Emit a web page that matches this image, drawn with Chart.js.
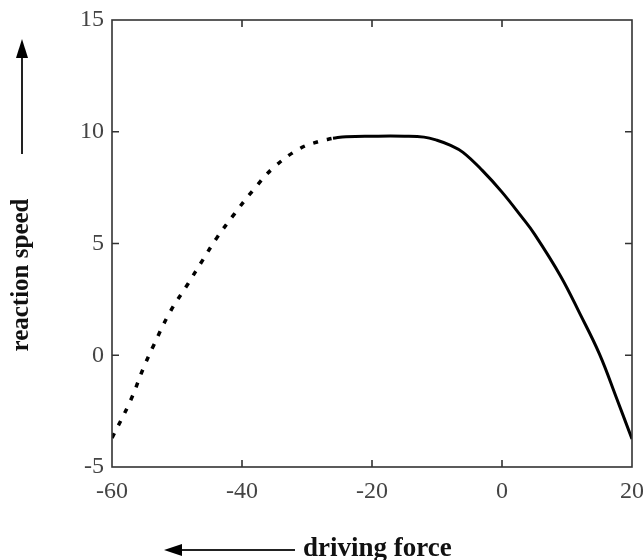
<!DOCTYPE html>
<html>
<head>
<meta charset="utf-8">
<script src="https://cdn.jsdelivr.net/npm/chart.js@4"></script>
<style>
  body { margin: 0; background: #fff; }
  canvas { display: block; }
</style>
</head>
<body>
<canvas id="myChart" width="643" height="560"></canvas>
<script>
// dashed branch (left) and solid branch (right)
const dashedX = [-60, -57.2, -55.2, -53.6, -51.1, -48.3, -46, -43.9, -41.1, -38.3, -35.2, -31.1, -28, -26]
const dashedY = [-3.7, -2.06, -0.6, 0.44, 1.92, 3.2, 4.28, 5.24, 6.35, 7.38, 8.38, 9.25, 9.58, 9.71]
const solidX = [-26, -24, -20, -15, -12, -10, -8, -6, -3, 0, 3, 5, 9, 12, 15, 17.6, 20]
const solidY = [9.71, 9.78, 9.8, 9.8, 9.76, 9.62, 9.4, 9.08, 8.26, 7.3, 6.2, 5.42, 3.55, 1.85, 0.05, -1.9, -3.75]
const xTicks = [-60, -40, -20, 0, 20]
const yTicks = [-5, 0, 5, 10, 15]

const toPoints = (xs, ys) => xs.map((x, i) => ({x: x, y: ys[i]}))

const frame = {
    id: 'frame',
    afterDraw(chart) {
        const c = chart.ctx
        const a = chart.chartArea
        const xs = chart.scales.x
        const ys = chart.scales.y
        c.save()
        c.strokeStyle = '#333'
        c.lineWidth = 1.6
        c.strokeRect(a.left, a.top, a.right - a.left, a.bottom - a.top)
        // inward ticks
        c.beginPath()
        xTicks.slice(1, -1).forEach(v => {
            const px = xs.getPixelForValue(v)
            c.moveTo(px, a.bottom); c.lineTo(px, a.bottom - 7)
            c.moveTo(px, a.top); c.lineTo(px, a.top + 7)
        })
        yTicks.slice(1, -1).forEach(v => {
            const py = ys.getPixelForValue(v)
            c.moveTo(a.left, py); c.lineTo(a.left + 7, py)
            c.moveTo(a.right, py); c.lineTo(a.right - 7, py)
        })
        c.stroke()

        // axis titles with arrows
        c.fillStyle = '#111'
        c.strokeStyle = '#222'
        c.font = 'bold 27px "Liberation Serif", serif'
        c.textBaseline = 'middle'
        c.textAlign = 'left'
        c.fillText('driving force', 303, 549)
        c.lineWidth = 2
        c.beginPath(); c.moveTo(295, 550); c.lineTo(176, 550); c.stroke()
        c.fillStyle = '#000'
        c.beginPath(); c.moveTo(164, 550); c.lineTo(182, 544); c.lineTo(182, 556); c.closePath(); c.fill()

        c.save()
        c.translate(22, 275)
        c.rotate(-Math.PI / 2)
        c.textAlign = 'center'
        c.font = 'bold 25px "Liberation Serif", serif'
        c.fillStyle = '#111'
        c.fillText('reaction speed', 0, 0)
        c.restore()
        c.beginPath(); c.moveTo(22, 154); c.lineTo(22, 50); c.stroke()
        c.beginPath(); c.moveTo(22, 39); c.lineTo(16, 58); c.lineTo(28, 58); c.closePath(); c.fill()
        c.restore()
    }
}

const ctx = document.getElementById('myChart').getContext('2d')
const myChart = new Chart(ctx, {
    type: 'line',
    data: {
        datasets: [{
            data: toPoints(dashedX, dashedY),
            borderColor: '#000',
            borderWidth: 3.5,
            borderDash: [5, 9],
            pointRadius: 0,
            tension: 0.4
        }, {
            data: toPoints(solidX, solidY),
            borderColor: '#000',
            borderWidth: 3,
            pointRadius: 0,
            tension: 0.4
        }]
    },
    options: {
        responsive: false,
        animation: false,
        layout: { padding: { top: 20, right: 11, left: 0, bottom: 0 } },
        plugins: { legend: { display: false }, tooltip: { enabled: false } },
        scales: {
            x: {
                type: 'linear',
                min: -60, max: 20,
                afterBuildTicks: (s) => { s.ticks = xTicks.map(v => ({value: v})) },
                afterFit: (s) => { s.height = 93; s.paddingLeft = 0; s.paddingRight = 0 },
                grid: { display: false, drawTicks: false },
                border: { display: false },
                ticks: { padding: 10, color: '#444', font: { family: '"Liberation Serif", serif', size: 24 } }
            },
            y: {
                type: 'linear',
                min: -5, max: 15,
                afterBuildTicks: (s) => { s.ticks = yTicks.map(v => ({value: v})) },
                afterFit: (s) => { s.width = 112; s.paddingTop = 0; s.paddingBottom = 0 },
                grid: { display: false, drawTicks: false },
                border: { display: false },
                ticks: { padding: 8, color: '#444', font: { family: '"Liberation Serif", serif', size: 24 } }
            }
        }
    },
    plugins: [frame]
})
</script>
</body>
</html>
